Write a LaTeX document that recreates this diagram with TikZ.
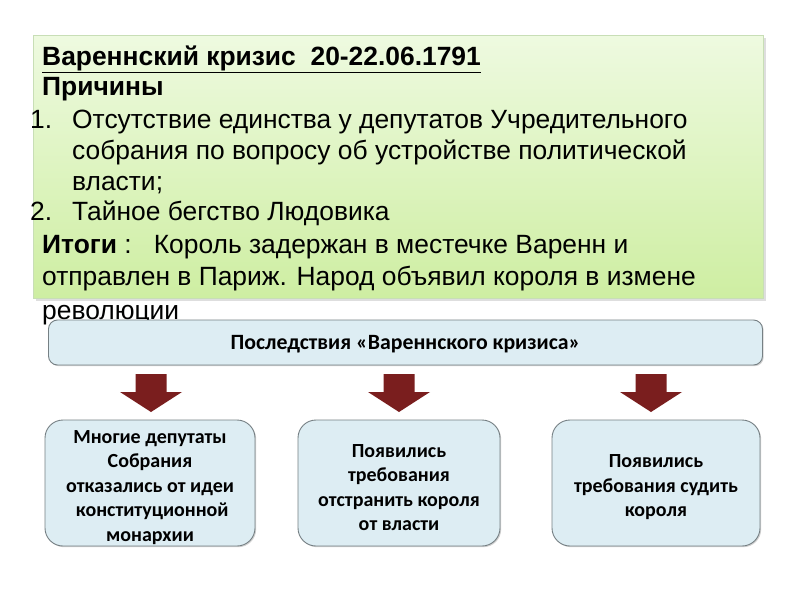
\documentclass[tikz,border=0pt]{standalone}
\usepackage{fontspec}
\setmainfont{Liberation Sans}
\newfontfamily\calfont{Carlito}
\usetikzlibrary{shadows}
\definecolor{gtop}{RGB}{238,250,224}
\definecolor{gbot}{RGB}{206,238,162}
\definecolor{gborder}{RGB}{200,222,182}
\definecolor{bfill}{RGB}{221,237,243}
\definecolor{bborder}{RGB}{118,128,132}
\definecolor{arrowred}{RGB}{122,30,30}
\newcommand{\downstrut}{\rule{0pt}{22pt}}
\tikzset{
  txt/.style={anchor=base west, inner sep=0pt, font=\fontsize{26.4}{30}\selectfont},
  bluebox/.style={draw=bborder, line width=0.9pt, fill=bfill, rounded corners=9pt,
     drop shadow={shadow xshift=1.2pt, shadow yshift=-1.2pt, opacity=0.35}},
  resbox/.style={bluebox, rounded corners=18pt, align=center, inner ysep=0pt,
     font=\calfont\bfseries\fontsize{20}{24.5}\selectfont},
  blockarrow/.style={fill=arrowred, draw=none}
}
\begin{document}
\begin{tikzpicture}[x=1pt,y=-1pt]
\useasboundingbox[fill=white] (0,0) rectangle (800,600);
% green panel
\fill[black!25, opacity=0.5] (36,38) rectangle (766,301);
\shade[top color=gtop, bottom color=gbot, draw=gborder, line width=0.6pt]
  (33,35) rectangle (763,298);
\node[txt] (title) at (42,65) {\bfseries\underline{Вареннский кризис\ \ 20-22.06.1791}};
\node[txt] (cause) at (42,95) {\bfseries Причины};
\node[txt] (n1) at (30,128) {1.};
\node[txt] (l1) at (72,128) {Отсутствие единства у депутатов Учредительного};
\node[txt] (l2) at (72,159) {собрания по вопросу об устройстве политической};
\node[txt] (l3) at (72,190) {власти;};
\node[txt] (n2) at (30,220) {2.};
\node[txt] (l4) at (72,220) {Тайное бегство Людовика};
\node[txt] (r1) at (42,253) {\textbf{Итоги} :\ \ \ Король задержан в местечке Варенн и};
\node[txt] (r2) at (42,285) {отправлен в Париж. Народ объявил короля в измене};
\node[txt] (r3) at (42,319) {революции};
% consequences
\node[bluebox, minimum width=714pt, minimum height=45pt, font=\calfont\bfseries\fontsize{21.8}{24}\selectfont]
  (top) at (405.5,342.5) {\rule{0pt}{17pt}Последствия «Вареннского кризиса»};
\node[resbox, minimum width=210pt, minimum height=126pt] (b1) at (150,483)
  {\downstrut Многие депутаты\\Собрания\\отказались от идеи\\\ конституционной\\монархии};
\node[resbox, minimum width=202pt, minimum height=126pt] (b2) at (399,483)
  {\downstrut Появились\\требования\\отстранить короля\\от власти};
\node[resbox, minimum width=208pt, minimum height=126pt] (b3) at (656,483)
  {\downstrut Появились\\требования судить\\короля};
% block arrows
\foreach \b/\cx in {b1/151,b2/399,b3/651}{
  \fill[blockarrow] (\cx-15.5,374) -- (\cx+15.5,374) -- (\cx+15.5,392) -- (\cx+31,392)
     -- (\cx,412) -- (\cx-31,392) -- (\cx-15.5,392) -- cycle;
}
\end{tikzpicture}
\end{document}
